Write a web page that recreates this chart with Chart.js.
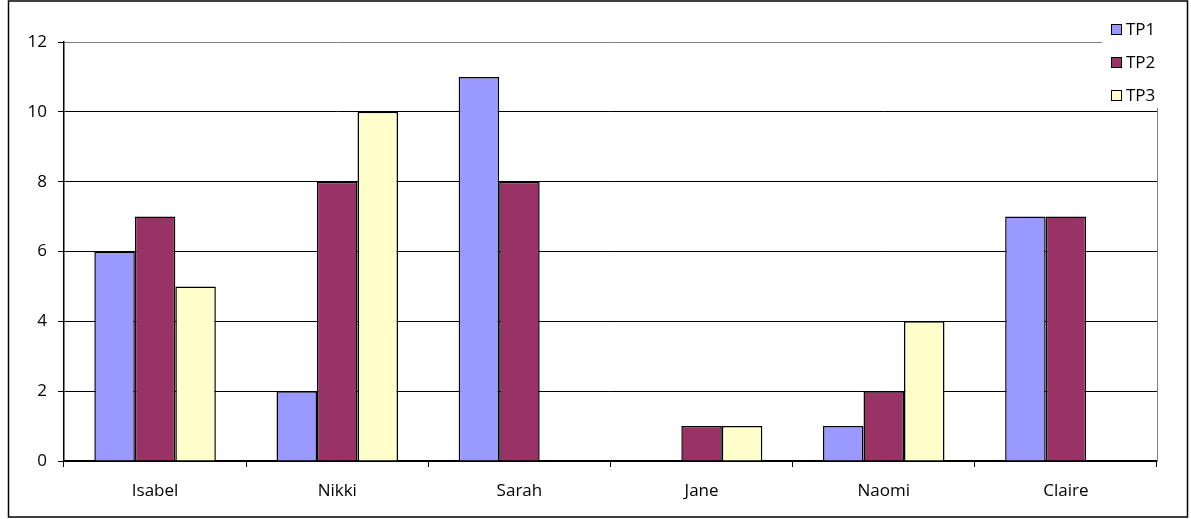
<!DOCTYPE html>
<html>
<head>
<meta charset="utf-8">
<script src="https://cdn.jsdelivr.net/npm/chart.js@4.4.0/dist/chart.umd.min.js"></script>
<style>
  html, body { margin: 0; padding: 0; background: #fff; }
  #wrap { width: 1191px; height: 519px; }
</style>
</head>
<body>
<div id="wrap"><canvas id="grafica"></canvas></div>
<script>
/* datos */
const nombres = ['Isabel', 'Nikki', 'Sarah', 'Jane', 'Naomi', 'Claire'];
const tp1 = [6, 2, 11, 0, 1, 7];
const tp2 = [7, 8, 8, 1, 2, 7];
const tp3 = [5, 10, 0, 1, 4, 0];
const series = ['TP1', 'TP2', 'TP3'];
const colores = ['#9999FF', '#993366', '#FFFFCC'];
const marcasY = [0, 2, 4, 6, 8, 10, 12];

const fuente = { family: '"Open Sans", sans-serif', size: 17 };

/* marco exterior, borde derecho y leyenda */
const marco = {
  id: 'marco',
  beforeDatasetsDraw(chart) {
    const { ctx, chartArea } = chart;
    ctx.save();
    ctx.strokeStyle = '#808080';
    ctx.lineWidth = 1;
    ctx.beginPath();
    ctx.moveTo(chartArea.right + 0.5, chartArea.top);
    ctx.lineTo(chartArea.right + 0.5, chartArea.bottom);
    ctx.stroke();
    ctx.restore();
  },
  afterDraw(chart) {
    const { ctx } = chart;
    ctx.save();
    // caja de leyenda
    ctx.fillStyle = '#fff';
    ctx.fillRect(1102, 2, 84, 106);
    ctx.font = '17px ' + fuente.family;
    ctx.textBaseline = 'middle';
    chart.data.datasets.forEach((ds, i) => {
      const y = 29 + i * 33;
      ctx.fillStyle = ds.backgroundColor;
      ctx.fillRect(1111, y - 5, 10, 10);
      ctx.strokeStyle = '#000';
      ctx.lineWidth = 1;
      ctx.strokeRect(1111.5, y - 4.5, 10, 10);
      ctx.fillStyle = '#000';
      ctx.fillText(ds.label, 1126, y + 1);
    });
    // borde del grafico
    ctx.strokeStyle = '#000';
    ctx.lineWidth = 1.5;
    ctx.strokeRect(8.5, 1, 1179, 516);
    ctx.restore();
  }
};

new Chart(document.getElementById('grafica'), {
  type: 'bar',
  data: {
    labels: nombres,
    datasets: [tp1, tp2, tp3].map((d, i) => ({
      label: series[i],
      data: d,
      backgroundColor: colores[i],
      borderColor: '#000',
      // las barras en cero no dibujan contorno
      borderWidth: c => (c.raw === 0 ? 0 : 1.5),
      borderSkipped: 'start',
      categoryPercentage: 0.667,
      barPercentage: 1
    }))
  },
  options: {
    responsive: true,
    maintainAspectRatio: false,
    animation: false,
    layout: { padding: { top: 42, right: 34, left: 0, bottom: 0 } },
    plugins: {
      legend: { display: false },
      tooltip: { enabled: false }
    },
    scales: {
      x: {
        offset: true,
        afterFit: s => { s.height = 58; },
        grid: {
          offset: true,
          drawOnChartArea: false,
          drawTicks: true,
          tickLength: 6,
          tickColor: '#000'
        },
        border: { color: '#000', width: 1.5 },
        ticks: { color: '#000', font: fuente, padding: 14, maxRotation: 0 }
      },
      y: {
        min: 0,
        max: 12,
        afterFit: s => { s.width = 64; },
        afterBuildTicks: s => { s.ticks = marcasY.map(v => ({ value: v })); },
        grid: {
          color: c => (c.tick && c.tick.value === 12) ? '#808080' : '#000',
          tickColor: '#000',
          tickLength: 6,
          lineWidth: 1
        },
        border: { color: '#000', width: 1.5 },
        ticks: { color: '#000', font: fuente, padding: 11 }
      }
    }
  },
  plugins: [marco]
});
</script>
</body>
</html>
